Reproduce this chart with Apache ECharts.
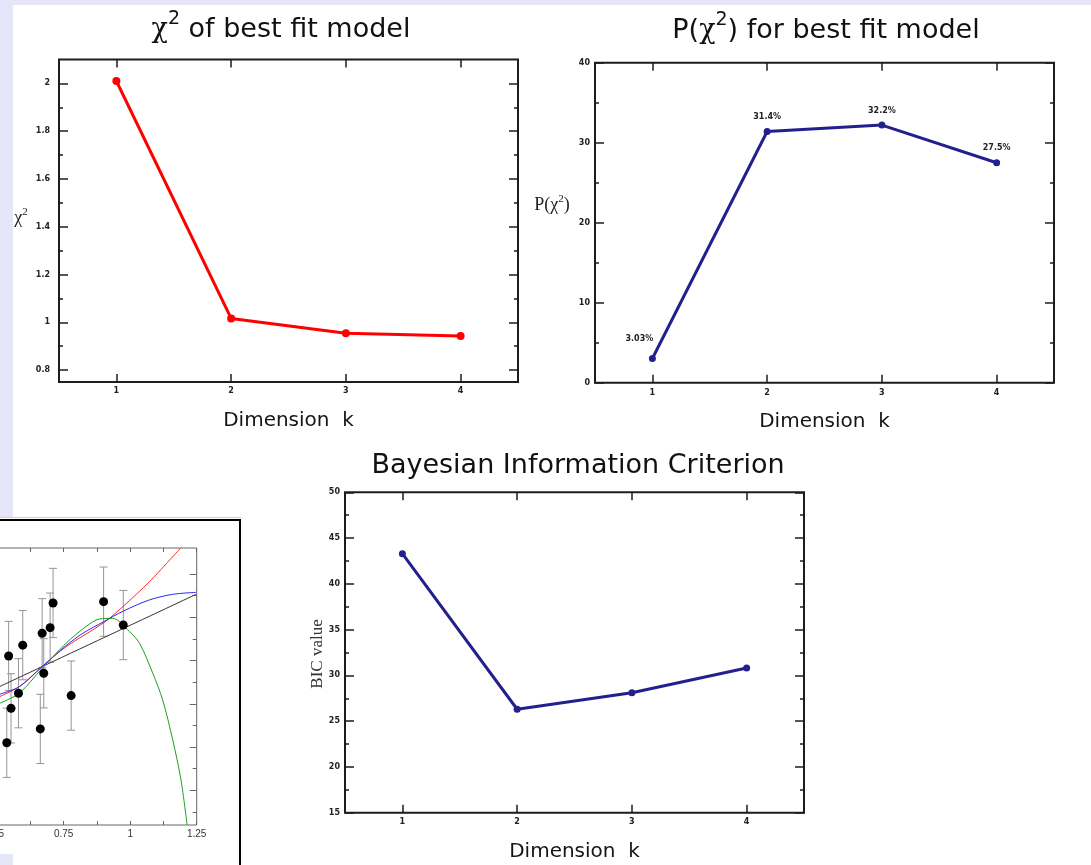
<!DOCTYPE html>
<html>
<head>
<meta charset="utf-8">
<script src="https://cdn.jsdelivr.net/npm/echarts@6/dist/echarts.min.js"></script>
<style>
  html, body { margin: 0; padding: 0; background: #ffffff; }
  #main { width: 1091px; height: 865px; }
</style>
</head>
<body>
<div id="main"></div>
<script>
// ---- Model-selection summaries versus model dimension k ----
const dimensions = ['1', '2', '3', '4'];

const chiSquare = [2.01, 1.016, 0.954, 0.943];
const chiMajorTicks = [0.8, 1, 1.2, 1.4, 1.6, 1.8, 2];
const chiMinorTicks = [0.9, 1.1, 1.3, 1.5, 1.7, 1.9];

const pChiSquare = [3.03, 31.4, 32.2, 27.5];
const pMajorTicks = [0, 10, 20, 30, 40];
const pMinorTicks = [5, 15, 25, 35];

const bicValues = [43.3, 26.3, 28.1, 30.8];
const bicMajorTicks = [15, 20, 25, 30, 35, 40, 45, 50];
const bicMinorTicks = [17.5, 22.5, 27.5, 32.5, 37.5, 42.5, 47.5];

// ---- Fit example: measurements with error bars and the k = 1..4 models ----
const obsX = [0.543, 0.552, 0.536, 0.580, 0.596, 0.662, 0.669, 0.675, 0.699, 0.710, 0.778, 0.900, 0.974];
const obsY = [6.21, 3.79, 2.20, 4.49, 6.71, 2.84, 7.26, 5.41, 7.52, 8.66, 4.38, 8.72, 7.64];
const obsErr = [1.6, 1.6, 1.6, 1.6, 1.6, 1.6, 1.6, 1.6, 1.6, 1.6, 1.6, 1.6, 1.6];

const fitXLabels = [0.25, 0.5, 0.75, 1, 1.25];
const fitYMajorTicks = [0, 2, 4, 6, 8, 10];
const fitYMinorTicks = [-1, 1, 3, 5, 7, 9];

const modelK1X = [0.508, 1.248];
const modelK1Y = [4.79, 9.06];
const modelK2X = [0.508, 0.583, 0.669, 0.759, 0.901, 0.975, 1.072, 1.191];
const modelK2Y = [4.33, 4.79, 5.72, 6.64, 7.75, 8.52, 9.64, 11.22];
const modelK3X = [0.508, 0.583, 0.669, 0.759, 0.822, 0.901, 0.975, 1.072, 1.160, 1.248];
const modelK3Y = [4.44, 4.79, 5.72, 6.69, 7.26, 7.80, 8.29, 8.80, 9.06, 9.15];
const modelK4X = [0.508, 0.583, 0.669, 0.759, 0.834, 0.884, 0.934, 0.997, 1.035, 1.085, 1.122, 1.160, 1.191, 1.214];
const modelK4Y = [4.02, 4.49, 5.64, 6.80, 7.57, 7.92, 7.95, 7.34, 6.80, 5.41, 4.18, 2.33, 0.48, -1.60];

// ---- styling ----
const INK = '#1c1c1c';
const NAVY = '#23208e';
const LAVENDER = '#e6e6fa';
const handFont = "'Comic Sans MS', 'DejaVu Sans', sans-serif";
const serifFont = "'Liberation Serif', 'DejaVu Serif', serif";
const tickFont = { fontFamily: 'DejaVu Sans', fontWeight: 'bold', fontSize: 8, color: '#222' };

const zip = (xs, ys) => xs.map((x, i) => [x, ys[i]]);

const grid = [
  { left: 59, top: 59.5, width: 459, height: 322.5 },
  { left: 595, top: 62.7, width: 459, height: 320 },
  { left: 345, top: 492.3, width: 459, height: 320.4 },
  { left: -69.3, top: 548, width: 266, height: 277 }
].map((g, i) => Object.assign({
  show: true,
  backgroundColor: 'transparent',
  borderColor: i < 3 ? INK : '#666',
  borderWidth: i < 3 ? 2 : 1,
  containLabel: false,
  outerBoundsMode: 'none'
}, g));

const xAxis = [];
const yAxis = [];

// Category axis (bottom with labels) plus a mirrored top axis carrying ticks only
function dimensionAxis(gridIndex, labelMargin) {
  const tick = { show: true, inside: true, alignWithLabel: true, length: 8, lineStyle: { color: INK, width: 1.5 } };
  const common = {
    type: 'category', gridIndex, data: dimensions, boundaryGap: true,
    axisLine: { show: false, onZero: false }, splitLine: { show: false }, axisTick: tick
  };
  xAxis.push(Object.assign({}, common, {
    position: 'bottom',
    axisLabel: Object.assign({ show: true, margin: labelMargin }, tickFont),
    name: 'Dimension  k', nameLocation: 'middle', nameGap: 29,
    nameTextStyle: { fontFamily: handFont, fontSize: 20, color: '#151515' }
  }));
  const idx = xAxis.length - 1;
  xAxis.push(Object.assign({}, common, { position: 'top', axisLabel: { show: false } }));
  return idx;
}

// Value axis on both sides: major ticks (with labels on the left) and shorter minor ticks
function valueAxis(gridIndex, min, max, major, minor, cfg) {
  const common = { type: 'value', gridIndex, min, max, axisLine: { show: false, onZero: false }, splitLine: { show: false } };
  const first = yAxis.length;
  ['left', 'right'].forEach(pos => {
    yAxis.push(Object.assign({}, common, {
      position: pos,
      axisTick: { show: true, inside: true, length: cfg.majorLen, customValues: major, lineStyle: { color: cfg.color, width: cfg.width } },
      axisLabel: (pos === 'left' && cfg.labels)
        ? Object.assign({ show: true, customValues: major, margin: cfg.margin }, tickFont)
        : { show: false }
    }));
    yAxis.push(Object.assign({}, common, {
      position: pos,
      axisTick: { show: true, inside: true, length: cfg.minorLen, customValues: minor, lineStyle: { color: cfg.color, width: cfg.width } },
      axisLabel: { show: false }
    }));
  });
  return first;
}

const xChi = dimensionAxis(0, 5);
const yChi = valueAxis(0, 0.75, 2.1, chiMajorTicks, chiMinorTicks, { labels: true, majorLen: 9, minorLen: 4, color: INK, width: 1.5, margin: 9 });
const xP = dimensionAxis(1, 6);
const yP = valueAxis(1, 0, 40, pMajorTicks, pMinorTicks, { labels: true, majorLen: 9, minorLen: 4, color: INK, width: 1.5, margin: 5 });
const xBic = dimensionAxis(2, 5);
const yBic = valueAxis(2, 15, 50, bicMajorTicks, bicMinorTicks, { labels: true, majorLen: 9, minorLen: 4, color: INK, width: 1.5, margin: 5 });

// Fit example axes
const fitTick = { show: true, inside: true, length: 4, lineStyle: { color: '#666', width: 1 } };
xAxis.push({
  type: 'value', gridIndex: 3, min: 0.25, max: 1.25, interval: 0.125, position: 'bottom',
  axisLine: { show: false, onZero: false }, splitLine: { show: false }, axisTick: fitTick,
  axisLabel: { show: true, customValues: fitXLabels, margin: 4, fontFamily: "'Liberation Sans', Arial, sans-serif", fontSize: 10, color: '#333' }
});
const xFit = xAxis.length - 1;
xAxis.push({
  type: 'value', gridIndex: 3, min: 0.25, max: 1.25, interval: 0.125, position: 'top',
  axisLine: { show: false, onZero: false }, splitLine: { show: false }, axisTick: fitTick, axisLabel: { show: false }
});
const yFit = valueAxis(3, -1.6, 11.2, fitYMajorTicks, fitYMinorTicks, { labels: false, majorLen: 7, minorLen: 4, color: '#666', width: 1, margin: 4 });

const modelLine = (xs, ys, color) => ({
  type: 'line', xAxisIndex: xFit, yAxisIndex: yFit, data: zip(xs, ys),
  showSymbol: false, smooth: 0.3, clip: true, z: 3,
  lineStyle: { color, width: 1 }
});

const series = [
  {
    type: 'line', xAxisIndex: xChi, yAxisIndex: yChi, data: chiSquare,
    symbol: 'circle', symbolSize: 8,
    lineStyle: { color: '#ff0000', width: 3 }, itemStyle: { color: '#ff0000' }
  },
  {
    type: 'line', xAxisIndex: xP, yAxisIndex: yP,
    data: pChiSquare.map((v, i) => i === 0 ? { value: v, label: { offset: [-13, -5] } } : v),
    symbol: 'circle', symbolSize: 7,
    lineStyle: { color: NAVY, width: 3 }, itemStyle: { color: NAVY },
    label: Object.assign({ show: true, position: 'top', distance: 7, formatter: '{c}%' }, tickFont)
  },
  {
    type: 'line', xAxisIndex: xBic, yAxisIndex: yBic, data: bicValues,
    symbol: 'circle', symbolSize: 7,
    lineStyle: { color: NAVY, width: 3 }, itemStyle: { color: NAVY }
  },
  {
    type: 'custom', xAxisIndex: xFit, yAxisIndex: yFit, z: 2,
    data: obsX.map((x, i) => [x, obsY[i], obsErr[i]]),
    encode: { x: 0, y: 1 },
    renderItem: (params, api) => {
      const x = api.value(0), y = api.value(1), e = api.value(2);
      const hi = api.coord([x, y + e]);
      const lo = api.coord([x, y - e]);
      const cap = 4;
      const st = { stroke: '#959595', lineWidth: 1 };
      return {
        type: 'group',
        children: [
          { type: 'line', shape: { x1: hi[0], y1: hi[1], x2: lo[0], y2: lo[1] }, style: st },
          { type: 'line', shape: { x1: hi[0] - cap, y1: hi[1], x2: hi[0] + cap, y2: hi[1] }, style: st },
          { type: 'line', shape: { x1: lo[0] - cap, y1: lo[1], x2: lo[0] + cap, y2: lo[1] }, style: st }
        ]
      };
    }
  },
  modelLine(modelK1X, modelK1Y, '#333333'),
  modelLine(modelK2X, modelK2Y, '#ff2a2a'),
  modelLine(modelK3X, modelK3Y, '#2a2aff'),
  modelLine(modelK4X, modelK4Y, '#1f9e1f'),
  {
    type: 'scatter', xAxisIndex: xFit, yAxisIndex: yFit, z: 4,
    data: zip(obsX, obsY), symbol: 'circle', symbolSize: 9,
    itemStyle: { color: '#000000', opacity: 1 }
  }
];

// Superscripts are raised by a bottom padding on a middle-aligned token
const titleRich = {
  g: { fontFamily: "'DejaVu Serif', serif", fontSize: 27, fill: '#111' },
  s: { fontFamily: handFont, fontSize: 19, padding: [0, 0, 22, 0], fill: '#111' },
  t: { fontFamily: handFont, fontSize: 27, fill: '#111' }
};
const nameRich = {
  g: { fontFamily: serifFont, fontSize: 18, fill: '#222' },
  s: { fontFamily: serifFont, fontSize: 11, padding: [0, 0, 12, 0], fill: '#222' }
};

const textEl = (x, y, text, rich, extra) => Object.assign({
  type: 'text', x, y, z: 10,
  style: { text, rich, align: 'center', verticalAlign: 'middle', textAlign: 'center', textVerticalAlign: 'middle', fill: '#111' }
}, extra || {});

const bicName = textEl(318, 654, 'BIC value', null, { rotation: Math.PI / 2 });
bicName.style.font = "17px 'Liberation Serif', serif";
bicName.style.fill = '#333';

const graphic = [
  { type: 'rect', z: -10, shape: { x: 0, y: 0, width: 1091, height: 5 }, style: { fill: LAVENDER } },
  { type: 'rect', z: -10, shape: { x: 0, y: 0, width: 13, height: 517 }, style: { fill: LAVENDER } },
  { type: 'line', z: -10, shape: { x1: 0, y1: 517.5, x2: 241, y2: 517.5 }, style: { stroke: '#d0d0d0', lineWidth: 1 } },
  { type: 'rect', z: -9, shape: { x: -10, y: 520, width: 250, height: 400 }, style: { fill: '#ffffff', stroke: '#000000', lineWidth: 2 } },
  { type: 'rect', z: -8, shape: { x: 0, y: 854, width: 13, height: 11 }, style: { fill: LAVENDER } },

  textEl(281, 30, '{g|χ}{s|2}{t| of best fit model}', titleRich),
  textEl(826, 31, '{t|P(}{g|χ}{s|2}{t|) for best fit model}', titleRich),
  textEl(578, 466, '{t|Bayesian Information Criterion}', titleRich),

  textEl(21, 218, '{g|χ}{s|2}', nameRich),
  textEl(552, 205, '{g|P(χ}{s|2}{g|)}', nameRich),
  bicName
];

const chart = echarts.init(document.getElementById('main'), null, { renderer: 'canvas', width: 1091, height: 865 });
chart.setOption({
  animation: false,
  backgroundColor: '#ffffff',
  grid, xAxis, yAxis, series, graphic
});
</script>
</body>
</html>
